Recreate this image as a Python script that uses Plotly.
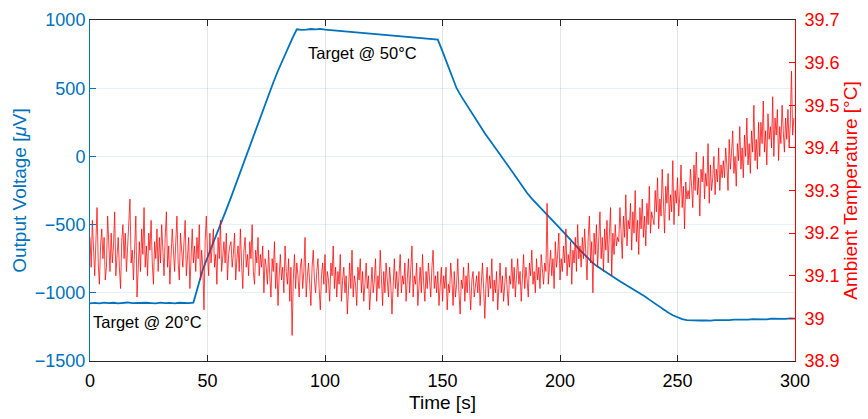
import numpy as np
import plotly.graph_objects as go

# ---- Data ----
# Output voltage [uV], sampled every 2 s from 0 to 300 s
volt_time = list(range(0, 301, 2))
voltage = [
    -1078, -1074, -1077, -1072, -1076, -1073, -1078, -1075, -1071, -1076,
    -1074, -1077, -1073, -1075, -1078, -1072, -1076, -1074, -1077, -1073,
    -1075, -1076, -1072,
    -950, -830, -740, -655, -570, -480, -390, -300, -205, -115,
    -25, 70, 165, 262, 358, 452, 542, 628, 710, 788, 862, 932,
    928, 930, 934, 931, 935, 930, 927, 925, 922, 918,
    915, 912, 908, 905, 903, 898, 897, 893, 890, 887,
    885, 882, 880, 876, 874, 870, 866, 864, 860, 856,
    770, 675, 585, 500, 440, 385, 330, 275, 220, 170,
    122, 75, 30, -20, -70, -120, -170, -220, -268, -310,
    -345, -380, -415, -450, -490, -527, -565, -605, -642, -678,
    -712, -748, -782, -808, -832, -855, -876, -898, -920, -940,
    -962, -983, -1003, -1025, -1050, -1075, -1098, -1122, -1145, -1165,
    -1180, -1193, -1200, -1202, -1204, -1203, -1202, -1204, -1200, -1201,
    -1198, -1200, -1196, -1197, -1195, -1196, -1193, -1194, -1192, -1195,
    -1190, -1192, -1189, -1191, -1188, -1190,
]

# Ambient temperature [degC], sampled every 0.5 s
temp_time = list(np.arange(600) * 0.5)
temperature = [
    39.19, 39.12, 39.23, 39.15, 39.10, 39.18, 39.26, 39.13, 39.08, 39.17, 39.21, 39.14, 39.19, 39.09, 39.12, 39.24, 39.16, 39.11, 39.20, 39.13, 39.17, 39.25, 39.10, 39.15, 39.19, 39.12, 39.07, 39.18, 39.22, 39.14,
    39.20, 39.11, 39.17, 39.22, 39.28, 39.13, 39.16, 39.09, 39.19, 39.24, 39.05, 39.14, 39.18, 39.11, 39.21, 39.15, 39.26, 39.12, 39.17, 39.10, 39.20, 39.16, 39.23, 39.13, 39.08, 39.18, 39.14, 39.21, 39.11, 39.19,
    39.13, 39.22, 39.16, 39.10, 39.19, 39.25, 39.12, 39.17, 39.08, 39.14, 39.21, 39.16, 39.11, 39.18, 39.24, 39.13, 39.09, 39.20, 39.15, 39.12, 39.18, 39.23, 39.10, 39.16, 39.19, 39.07, 39.14, 39.21, 39.13, 39.17,
    39.11, 39.19, 39.14, 39.22, 39.09, 39.16, 39.12, 39.02, 39.18, 39.24, 39.15, 39.10, 39.20, 39.13, 39.17, 39.21, 39.12, 39.15, 39.08, 39.19, 39.14, 39.23, 39.11, 39.16, 39.18, 39.13, 39.20, 39.09, 39.15, 39.17,
    39.18, 39.12, 39.15, 39.20, 39.09, 39.14, 39.17, 39.11, 39.21, 39.13, 39.07, 39.16, 39.19, 39.12, 39.15, 39.10, 39.18, 39.14, 39.22, 39.11, 39.08, 39.16, 39.13, 39.19, 39.10, 39.15, 39.12, 39.17, 39.06, 39.14,
    39.12, 39.08, 39.16, 39.10, 39.05, 39.14, 39.11, 39.18, 39.07, 39.13, 39.03, 39.10, 39.15, 39.09, 39.12, 39.06, 39.17, 39.11, 39.08, 39.14, 39.04, 39.12, 38.96, 39.09, 39.15, 39.07, 39.13, 39.10, 39.05, 39.12,
    39.14, 39.07, 39.11, 39.19, 39.05, 39.10, 39.13, 39.08, 39.03, 39.12, 39.16, 39.09, 39.06, 39.11, 39.14, 39.07, 39.02, 39.10, 39.13, 39.08, 39.15, 39.06, 39.11, 39.09, 39.04, 39.13, 39.10, 39.17, 39.07, 39.12,
    39.05, 39.11, 39.08, 39.15, 39.04, 39.09, 39.12, 39.06, 39.10, 39.01, 39.08, 39.13, 39.07, 39.16, 39.05, 39.10, 39.08, 39.03, 39.12, 39.09, 39.14, 39.06, 39.11, 39.04, 39.08, 39.13, 39.07, 39.10, 39.02, 39.09,
    39.12, 39.06, 39.09, 39.14, 39.04, 39.10, 39.07, 39.16, 39.08, 39.03, 39.11, 39.06, 39.13, 39.09, 39.05, 39.12, 39.08, 39.01, 39.10, 39.14, 39.07, 39.11, 39.05, 39.09, 39.15, 39.06, 39.10, 39.08, 39.13, 39.04,
    39.09, 39.14, 39.06, 39.11, 39.17, 39.05, 39.10, 39.08, 39.13, 39.03, 39.09, 39.12, 39.06, 39.15, 39.08, 39.04, 39.11, 39.07, 39.13, 39.09, 39.05, 39.12, 39.16, 39.07, 39.10, 39.06, 39.11, 39.03, 39.09, 39.12,
    39.04, 39.10, 39.07, 39.12, 39.02, 39.08, 39.06, 39.13, 39.09, 39.03, 39.11, 39.05, 39.08, 39.14, 39.06, 39.01, 39.09, 39.07, 39.12, 39.04, 39.10, 39.06, 39.13, 39.08, 39.02, 39.09, 39.11, 39.05, 39.08, 39.10,
    39.06, 39.11, 39.03, 39.09, 39.13, 39.07, 39.00, 39.08, 39.12, 39.05, 39.10, 39.07, 39.14, 39.04, 39.09, 39.06, 39.11, 39.02, 39.08, 39.13, 39.06, 39.10, 39.04, 39.09, 39.12, 39.07, 39.03, 39.10, 39.08, 39.14,
    39.07, 39.12, 39.05, 39.10, 39.14, 39.08, 39.11, 39.04, 39.09, 39.15, 39.07, 39.12, 39.09, 39.05, 39.13, 39.10, 39.16, 39.08, 39.11, 39.06, 39.14, 39.09, 39.12, 39.07, 39.15, 39.10, 39.08, 39.13, 39.11, 39.27,
    39.08, 39.12, 39.16, 39.10, 39.14, 39.07, 39.18, 39.12, 39.15, 39.20, 39.09, 39.14, 39.11, 39.17, 39.13, 39.21, 39.10, 39.15, 39.12, 39.18, 39.08, 39.16, 39.13, 39.19, 39.11, 39.22, 39.14, 39.17, 39.12, 39.19,
    39.14, 39.21, 39.16, 39.09, 39.19, 39.24, 39.13, 39.18, 39.06, 39.20, 39.15, 39.22, 39.12, 39.17, 39.25, 39.14, 39.19, 39.11, 39.21, 39.16, 39.23, 39.13, 39.18, 39.26, 39.10, 39.20, 39.15, 39.22, 39.17, 39.19,
    39.18, 39.26, 39.20, 39.14, 39.24, 39.19, 39.29, 39.17, 39.23, 39.21, 39.27, 39.16, 39.25, 39.20, 39.30, 39.18, 39.23, 39.15, 39.26, 39.21, 39.28, 39.19, 39.24, 39.17, 39.27, 39.22, 39.31, 39.20, 39.25, 39.23,
    39.22, 39.30, 39.25, 39.33, 39.21, 39.28, 39.24, 39.35, 39.26, 39.20, 39.31, 39.27, 39.34, 39.23, 39.29, 39.25, 39.37, 39.22, 39.30, 39.27, 39.33, 39.24, 39.29, 39.36, 39.26, 39.31, 39.21, 39.32, 39.28, 39.30,
    39.28, 39.35, 39.31, 39.26, 39.36, 39.30, 39.39, 39.29, 39.33, 39.24, 39.35, 39.32, 39.38, 39.28, 39.34, 39.31, 39.41, 39.27, 39.36, 39.30, 39.33, 39.38, 39.29, 39.35, 39.32, 39.40, 39.30, 39.36, 39.33, 39.37,
    39.33, 39.40, 39.36, 39.30, 39.42, 39.35, 39.39, 39.44, 39.34, 39.38, 39.31, 39.41, 39.37, 39.45, 39.35, 39.40, 39.33, 39.43, 39.38, 39.47, 39.36, 39.41, 39.34, 39.44, 39.39, 39.50, 39.37, 39.42, 39.35, 39.46,
    39.38, 39.46, 39.41, 39.51, 39.39, 39.44, 39.36, 39.48, 39.42, 39.45, 39.40, 39.52, 39.38, 39.47, 39.43, 39.49, 39.37, 39.45, 39.41, 39.50, 39.44, 39.39, 39.47, 39.42, 39.49, 39.40, 39.46, 39.58, 39.43, 39.47,
]

x_ticks = [0, 50, 100, 150, 200, 250, 300]
y_ticks = [-1500, -1000, -500, 0, 500, 1000]
y2_ticks = [38.9, 39.0, 39.1, 39.2, 39.3, 39.4, 39.5, 39.6, 39.7]
y2_labels = ["38.9", "39", "39.1", "39.2", "39.3", "39.4", "39.5", "39.6", "39.7"]

BLUE = "#0072BD"
RED = "#FF0000"
DARK = "#262626"
FONT = "Liberation Sans, Arial, sans-serif"

fig = go.Figure()
fig.add_trace(go.Scatter(x=volt_time, y=voltage, mode="lines",
                         line=dict(color=BLUE, width=1.8), yaxis="y",
                         showlegend=False))
fig.add_trace(go.Scatter(x=temp_time, y=temperature, mode="lines",
                         line=dict(color=RED, width=0.75),
                         yaxis="y2", showlegend=False))

fig.add_annotation(x=92, y=758, xref="x", yref="y", text="Target @ 50°C",
                   showarrow=False, xanchor="left", yanchor="middle",
                   font=dict(family=FONT, size=16.5, color="#000000"))
fig.add_annotation(x=0.5, y=-1214, xref="x", yref="y", text="Target @ 20°C",
                   showarrow=False, xanchor="left", yanchor="middle",
                   font=dict(family=FONT, size=16.5, color="#000000"))

fig.update_layout(
    width=868, height=419,
    margin=dict(l=90, r=73, t=20, b=58),
    paper_bgcolor="white", plot_bgcolor="white",
    font=dict(family=FONT, size=18, color=DARK),
    xaxis=dict(range=[0, 300], tickvals=x_ticks, ticks="inside", ticklen=6,
               tickcolor=DARK, showline=True, linecolor=DARK, linewidth=1,
               mirror="ticks", showgrid=True, ticklabelstandoff=3,
               automargin=False,
               gridcolor="rgba(38,38,38,0.12)", zeroline=False,
               tickfont=dict(size=18, color="#000000"),
               title=dict(text="Time [s]", font=dict(size=19, color="#000000"),
                          standoff=6)),
    yaxis=dict(range=[-1500, 1000], tickvals=y_ticks, ticks="inside",
               ticklen=6, tickcolor=BLUE, showline=True, linecolor=BLUE,
               linewidth=1, showgrid=True, gridcolor="rgba(0,114,189,0.10)",
               zeroline=False, tickfont=dict(size=18, color=BLUE),
               automargin=False,
               title=dict(text="Output Voltage [<i>μ</i>V]",
                          font=dict(size=19, color=BLUE), standoff=3)),
    yaxis2=dict(range=[38.9, 39.7], tickvals=y2_ticks, ticktext=y2_labels,
                overlaying="y", side="right", ticks="inside", ticklen=6,
                tickcolor=RED, showline=True, linecolor=RED, linewidth=1,
                showgrid=False, zeroline=False, ticklabelstandoff=5,
                automargin=False,
                tickfont=dict(size=18, color=RED),
                title=dict(text="Ambient Temperature [°C]",
                           font=dict(size=19, color=RED), standoff=4)),
)

fig.write_html("out.html")
